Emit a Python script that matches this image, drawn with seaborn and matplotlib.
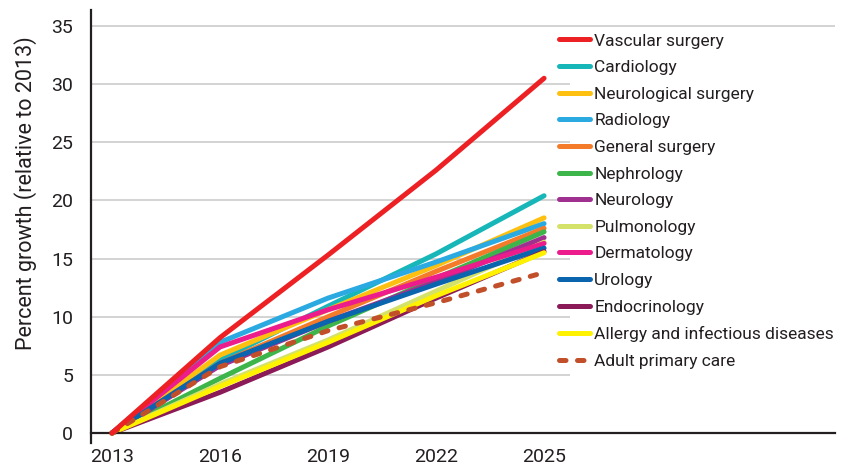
import numpy as np
import pandas as pd
import seaborn as sns
import matplotlib.pyplot as plt

# projected growth, percent relative to 2013
years = [2013, 2016, 2019, 2022, 2025]

specialties = [
    'Vascular surgery', 'Cardiology', 'Neurological surgery', 'Radiology',
    'General surgery', 'Nephrology', 'Neurology', 'Pulmonology',
    'Dermatology', 'Urology', 'Endocrinology',
    'Allergy and infectious diseases', 'Adult primary care',
]

vascular_surgery = [0, 8.2, 15.3, 22.6, 30.5]
cardiology = [0, 6.3, 10.9, 15.4, 20.4]
neurological_surgery = [0, 6.7, 10.6, 14.4, 18.5]
radiology = [0, 7.8, 11.6, 14.7, 18.0]
general_surgery = [0, 6.0, 10.0, 13.9, 17.6]
nephrology = [0, 4.7, 9.2, 13.3, 17.3]
neurology = [0, 5.8, 9.6, 13.0, 16.8]
pulmonology = [0, 4.2, 8.0, 12.2, 16.4]
dermatology = [0, 7.4, 10.6, 13.4, 16.3]
urology = [0, 6.0, 9.6, 12.8, 15.9]
endocrinology = [0, 3.5, 7.4, 11.6, 15.6]
allergy = [0, 4.0, 7.8, 11.8, 15.5]
adult_primary_care = [0, 5.7, 8.8, 11.2, 13.8]

series = [vascular_surgery, cardiology, neurological_surgery, radiology,
          general_surgery, nephrology, neurology, pulmonology, dermatology,
          urology, endocrinology, allergy, adult_primary_care]

colors = ['#ED2024', '#17B6B8', '#FDC010', '#2BAAE2', '#F47B2A', '#3DB54A',
          '#A0308F', '#D5E26A', '#EC1C8C', '#0A64AE', '#8B1A58', '#FFF200',
          '#C1502A']

df = pd.DataFrame({
    'year': np.tile(years, len(specialties)),
    'growth': np.concatenate(series),
    'specialty': np.repeat(specialties, len(years)),
})

sns.set_style('white')
plt.rcParams['font.family'] = ['Roboto', 'DejaVu Sans']
ink = '#231F20'

fig = plt.figure(figsize=(8.49, 4.71), dpi=100)
ax = fig.add_axes([0.1072, 0.0594, 0.8763, 0.9194])

for i, (name, col) in enumerate(zip(specialties, colors)):
    z = 2 + i * 0.01
    if name == 'Vascular surgery':
        z = 3.2
    ls = (0, (1.3, 2.3)) if name == 'Adult primary care' else '-'
    if name == 'Adult primary care':
        z = 3.1
    sns.lineplot(data=df[df['specialty'] == name], x='year', y='growth',
                 color=col, linewidth=3.6, linestyle=ls, label=name,
                 solid_capstyle='round', dash_capstyle='round',
                 errorbar=None, zorder=z, ax=ax)

ax.set_xlim(2012.417, 2033.08)
ax.set_ylim(-0.86, 36.37)
ax.set_xticks(years)
ax.set_yticks(range(0, 36, 5))

# light grid lines, stopping short of the legend
for t in ax.get_yticks()[1:]:
    right = 2033.08 if t == 35 else 2025.72
    ax.hlines(t, 2012.417, right, color='#C8C8C8', linewidth=1.1, zorder=1)

for s in ['top', 'right']:
    ax.spines[s].set_visible(False)
ax.spines['bottom'].set_position(('data', 0))
for s in ['left', 'bottom']:
    ax.spines[s].set_color(ink)
    ax.spines[s].set_linewidth(1.6)

ax.tick_params(axis='x', direction='out', length=7, width=1.5, color=ink,
               labelsize=14, labelcolor=ink, pad=4)
ax.tick_params(axis='y', direction='out', length=10, width=1.5, color=ink,
               labelsize=14, labelcolor=ink, pad=3)

ax.set_xlabel('')
ax.set_ylabel('Percent growth (relative to 2013)', fontsize=15.5, color=ink)
ax.yaxis.set_label_coords(-0.072, 0.577)

ax.legend(loc='upper left', bbox_to_anchor=(0.618, 0.966), frameon=False,
          fontsize=12.5, borderpad=0, handlelength=1.75, handletextpad=0.25,
          labelspacing=0.66, labelcolor=ink)

fig.savefig('out.png', dpi=100)
